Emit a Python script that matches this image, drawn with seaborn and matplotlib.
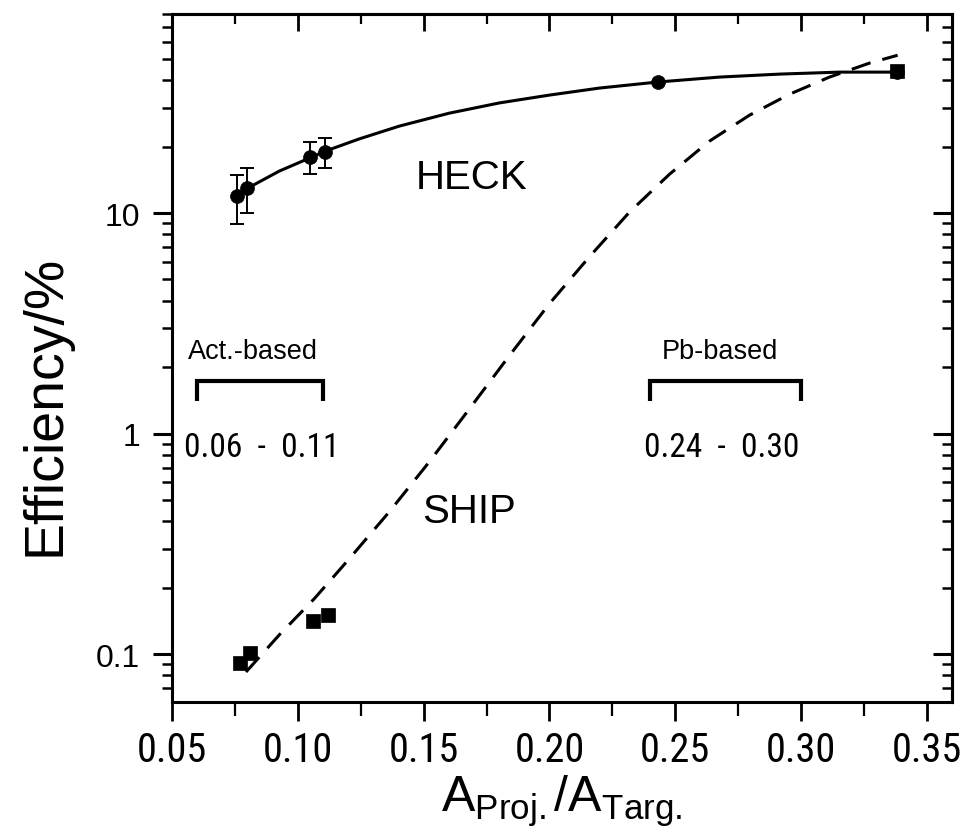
import numpy as np
import pandas as pd
import seaborn as sns
import matplotlib
matplotlib.use("Agg")
import matplotlib.pyplot as plt
import matplotlib.transforms as mtrans
from matplotlib import font_manager as fm
from matplotlib.ticker import FixedLocator, FixedFormatter, NullFormatter

# ---------------- data ----------------
heck_x = [0.076, 0.080, 0.105, 0.111, 0.243, 0.338]
heck_y = [11.9, 13.0, 18.0, 19.0, 39.5, 43.5]
heck_err_x = [0.076, 0.080, 0.105, 0.111]
heck_err_y = [11.9, 13.0, 18.0, 19.0]
heck_err = [3.0, 3.0, 3.0, 3.0]

ship_x = [0.077, 0.081, 0.106, 0.112, 0.338]
ship_y = [0.091, 0.101, 0.141, 0.151, 44.0]

heck_fit_x = [0.0759, 0.0802, 0.0926, 0.1053, 0.1109, 0.1244, 0.1403, 0.1602,
              0.1801, 0.2000, 0.2198, 0.2429, 0.2676, 0.2914, 0.3153, 0.3384]
heck_fit_y = [11.9, 13.0, 15.5, 17.9, 19.1, 21.7, 24.8, 28.4,
              31.6, 34.3, 36.9, 39.3, 41.4, 42.7, 43.6, 43.6]

ship_fit_x = [0.0794, 0.0926, 0.1065, 0.1204, 0.1363, 0.1522, 0.1681, 0.1840,
              0.1999, 0.2158, 0.2318, 0.2477, 0.2636, 0.2795, 0.2954, 0.3113,
              0.3272, 0.3384]
ship_fit_y = [0.0829, 0.122, 0.178, 0.270, 0.441, 0.743, 1.29, 2.25,
              3.87, 6.32, 10.1, 15.0, 21.2, 27.8, 34.6, 41.4, 47.9, 52.0]

act_range = (0.06, 0.11)
pb_range = (0.24, 0.30)

x_ticks = [0.05, 0.10, 0.15, 0.20, 0.25, 0.30, 0.35]
x_tick_labels = ["0.05", "0.10", "0.15", "0.20", "0.25", "0.30", "0.35"]
y_ticks = [0.1, 1, 10]
y_tick_labels = ["0.1", "1", "10"]

# ---------------- fonts ----------------
sns.set_style("ticks")
names = {f.name for f in fm.fontManager.ttflist}
REG = "Liberation Sans" if "Liberation Sans" in names else "DejaVu Sans"
plt.rcParams["font.family"] = [REG, "DejaVu Sans"]
plt.rcParams["mathtext.fontset"] = "custom"
plt.rcParams["mathtext.rm"] = REG
plt.rcParams["mathtext.it"] = REG
for k in ("text.color", "axes.labelcolor", "xtick.color", "ytick.color",
          "axes.edgecolor"):
    plt.rcParams[k] = "black"

# look for a condensed / narrow face for the numbers
narrow_file = None
cands = []
for f in fm.fontManager.ttflist:
    st = str(f.stretch).lower()
    if f.style == "normal" and f.weight in (400, "normal", "regular"):
        if ("narrow" in f.name.lower() or "condensed" in st
                or "condensed" in f.name.lower()):
            cands.append(f)
pref = ["Liberation Sans Narrow", "Roboto Condensed", "Open Sans Condensed",
        "DejaVu Sans"]
for p in pref:
    for f in cands:
        if f.name == p:
            narrow_file = f.fname
            break
    if narrow_file:
        break
if narrow_file is None and cands:
    narrow_file = cands[0].fname


def nprop(size):
    if narrow_file:
        return fm.FontProperties(fname=narrow_file, size=size)
    return fm.FontProperties(family=REG, size=size)


have_narrow = narrow_file is not None

fig = plt.figure(figsize=(9.63, 8.28), dpi=100)
W, H = 963, 828
L, R, T, B = 172, 952, 15, 703
ax = fig.add_axes([L / W, 1 - B / H, (R - L) / W, (B - T) / H])
ax.set_yscale("log")
ax.set_xlim(0.05, 0.36)
ax.set_ylim(0.0606, 80)

heck_fit = pd.DataFrame({"x": heck_fit_x, "y": heck_fit_y})
ship_fit = pd.DataFrame({"x": ship_fit_x, "y": ship_fit_y})
heck = pd.DataFrame({"x": heck_x, "y": heck_y})
ship = pd.DataFrame({"x": ship_x, "y": ship_y})

sns.lineplot(data=heck_fit, x="x", y="y", ax=ax, color="black", lw=2.2,
             sort=False, estimator=None)
sns.lineplot(data=ship_fit, x="x", y="y", ax=ax, color="black", lw=2.2,
             sort=False, estimator=None, dashes=False, linestyle=(0, (6.5, 4)))
ax.errorbar(heck_err_x, heck_err_y, yerr=heck_err, fmt="none", ecolor="black",
            elinewidth=1.4, capsize=5, capthick=1.4, zorder=3)
sns.scatterplot(data=ship, x="x", y="y", ax=ax, marker="s", s=100, color="black",
                edgecolor="black", linewidth=0.5, zorder=4)
sns.scatterplot(data=heck, x="x", y="y", ax=ax, marker="o", s=100, color="black",
                edgecolor="black", linewidth=0.5, zorder=5)

# brackets
bt = mtrans.blended_transform_factory(ax.transData, ax.transAxes)
for (a, b) in (act_range, pb_range):
    ax.plot([a, a, b, b], [0.437, 0.467, 0.467, 0.437], transform=bt,
            color="black", lw=3.0, solid_capstyle="butt", solid_joinstyle="miter")

ax.text(0.169, 14.6, "HECK", fontsize=29, ha="center", va="center", color="black")
ax.text(0.168, 0.445, "SHIP", fontsize=29, ha="center", va="center", color="black")
ax.text(0.0565, 0.510, "Act.-based", transform=bt, fontsize=19.5, ha="left",
        va="center", color="black")
ax.text(0.2676, 0.510, "Pb-based", transform=bt, fontsize=19.5, ha="center",
        va="center", color="black")
rsize = 24 if have_narrow else 20
ax.text(0.0855, 0.371, "0.06  -  0.11", transform=bt, fontproperties=nprop(rsize),
        ha="center", va="center", color="black")
ax.text(0.2685, 0.371, "0.24  -  0.30", transform=bt, fontproperties=nprop(rsize),
        ha="center", va="center", color="black")

# axes labels
ax.set_xlabel("")
ax.set_ylabel("")
fig.text(45 / W, 1 - 405 / H, "Efficiency/%", rotation=90, ha="center",
         va="center", fontsize=40, color="black")
fig.text(562 / W, 1 - 801 / H, r"A$_{\mathrm{Proj.}}$/A$_{\mathrm{Targ.}}$",
         ha="center", va="center", fontsize=36, color="black")

# ticks
for sp in ax.spines.values():
    sp.set_linewidth(2.2)
    sp.set_visible(True)
    sp.set_color("black")
ax.xaxis.set_major_locator(FixedLocator(x_ticks))
ax.xaxis.set_major_formatter(FixedFormatter(x_tick_labels))
ax.xaxis.set_minor_locator(FixedLocator([0.075, 0.125, 0.175, 0.225, 0.275, 0.325]))
ax.yaxis.set_major_locator(FixedLocator(y_ticks))
ax.yaxis.set_major_formatter(FixedFormatter(y_tick_labels))
minor_y = [m * d for d in (0.01, 0.1, 1, 10) for m in range(2, 10)]
ax.yaxis.set_minor_locator(FixedLocator(minor_y))
ax.yaxis.set_minor_formatter(NullFormatter())

ax.tick_params(axis="x", which="major", direction="out", length=14, width=2.0,
               pad=6, bottom=True, top=False)
ax.tick_params(axis="x", which="minor", direction="out", length=10, width=1.6,
               bottom=True, top=False)
ax.tick_params(axis="y", which="major", direction="out", length=14, width=2.2,
               pad=9, labelsize=23, left=True, right=False)
ax.tick_params(axis="y", which="minor", direction="out", length=7.5, width=1.8,
               left=True, right=False)
xsize = 29 if have_narrow else 24.5
for lab in ax.get_xticklabels():
    lab.set_fontproperties(nprop(xsize))

# inward ticks on top and right
axt = ax.secondary_xaxis("top")
axt.xaxis.set_major_locator(FixedLocator(x_ticks))
axt.xaxis.set_minor_locator(FixedLocator([0.075, 0.125, 0.175, 0.225, 0.275, 0.325]))
axt.tick_params(which="major", direction="in", length=12, width=2.0, labeltop=False)
axt.tick_params(which="minor", direction="in", length=7, width=1.6)
axt.spines["top"].set_linewidth(2.2)

axr = ax.secondary_yaxis("right")
axr.yaxis.set_major_locator(FixedLocator(y_ticks))
axr.yaxis.set_minor_locator(FixedLocator(minor_y))
axr.yaxis.set_minor_formatter(NullFormatter())
axr.tick_params(which="major", direction="in", length=14, width=2.2, labelright=False)
axr.tick_params(which="minor", direction="in", length=7.5, width=1.8)
axr.spines["right"].set_linewidth(2.2)

fig.savefig("out.png", dpi=100)
